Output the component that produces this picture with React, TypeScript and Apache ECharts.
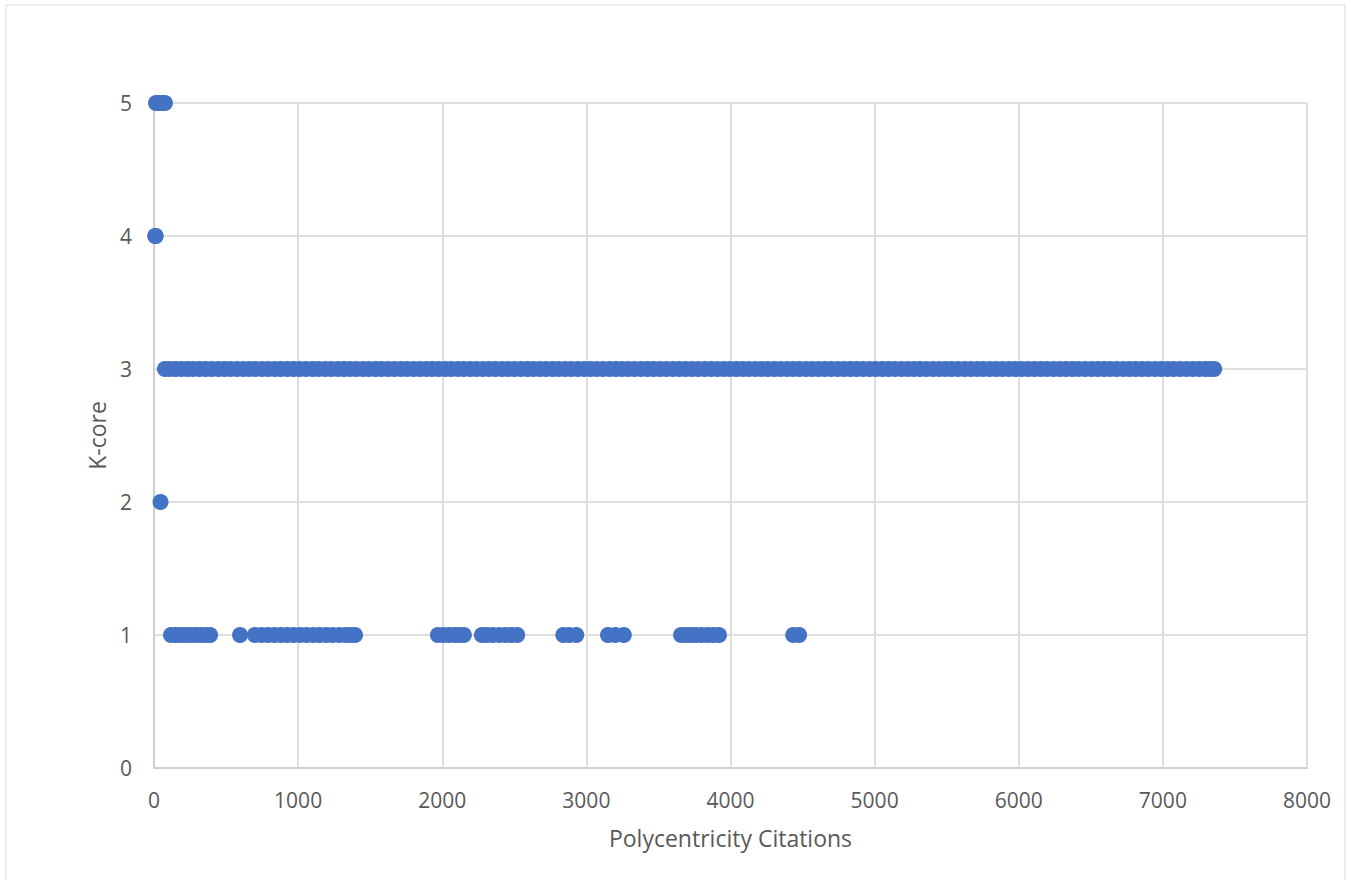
import React, { useEffect, useRef } from "react";
import * as echarts from "echarts";

const xTicks = [0, 1000, 2000, 3000, 4000, 5000, 6000, 7000, 8000];
const yTicks = [0, 1, 2, 3, 4, 5];

const kcore5 = [14, 30, 45, 60, 76];
const kcore4 = [8, 12];
const kcore2 = [45];
const kcore1 = [
  118, 150, 185, 220, 255, 290, 325, 360, 389,
  597,
  700, 745, 790, 835, 880, 925, 970, 1015, 1060, 1105, 1150, 1195, 1240, 1285, 1330, 1365, 1395,
  1970, 2010, 2050, 2090, 2125, 2150,
  2275, 2310, 2350, 2395, 2440, 2480, 2520,
  2840, 2880, 2930,
  3150, 3200, 3260,
  3657, 3690, 3725, 3760, 3800, 3840, 3880, 3920,
  4435, 4476,
];
const kcore3 = [
  76, 110, 150, 190, 232, 270, 315, 358, 400, 445, 488, 530, 575, 620, 662, 705, 750, 792, 838, 880,
  925, 968, 1010, 1055, 1100, 1142, 1188, 1230, 1275, 1318, 1360, 1405, 1450, 1492, 1538, 1580, 1625,
  1668, 1712, 1755, 1800, 1845, 1888, 1930, 1975, 2020, 2062, 2108, 2150, 2195, 2238, 2282, 2325, 2370,
  2415, 2458, 2500, 2545, 2590, 2632, 2676, 2720, 2765, 2808, 2852, 2895, 2940, 2985, 3028, 3072, 3115,
  3160, 3205, 3248, 3292, 3335, 3380, 3425, 3468, 3512, 3555, 3600, 3645, 3688, 3732, 3775, 3820, 3865,
  3908, 3952, 3995, 4040, 4085, 4128, 4172, 4215, 4260, 4305, 4348, 4392, 4435, 4480, 4525, 4568, 4612,
  4655, 4700, 4745, 4788, 4832, 4875, 4920, 4965, 5008, 5052, 5095, 5140, 5185, 5228, 5272, 5315, 5360,
  5405, 5448, 5492, 5535, 5580, 5625, 5668, 5712, 5755, 5800, 5845, 5888, 5932, 5975, 6020, 6065, 6108,
  6152, 6195, 6240, 6285, 6328, 6372, 6415, 6460, 6505, 6548, 6592, 6635, 6680, 6725, 6768, 6812, 6855,
  6900, 6945, 6988, 7032, 7075, 7120, 7165, 7208, 7252, 7295, 7330, 7356,
];

const groups: [number, number[]][] = [
  [5, kcore5],
  [4, kcore4],
  [3, kcore3],
  [2, kcore2],
  [1, kcore1],
];

const FONT = "Open Sans";

export default function App() {
  const ref = useRef<HTMLDivElement>(null);
  useEffect(() => {
    if (!ref.current) return;
    const chart = echarts.init(ref.current, undefined, { renderer: "svg" });
    const data: number[][] = [];
    groups.forEach(([k, xs]) => xs.forEach((x) => data.push([x, k])));
    chart.setOption({
      animation: false,
      backgroundColor: "#ffffff",
      graphic: [
        {
          type: "rect",
          shape: { x: 6, y: 5, width: 1339, height: 890 },
          style: { fill: "none", stroke: "#d9d9d9", lineWidth: 1 },
          silent: true,
        },
      ],
      grid: { left: 154, right: 39, top: 103, bottom: 112 },
      xAxis: {
        type: "value",
        min: xTicks[0],
        max: xTicks[xTicks.length - 1],
        interval: 1000,
        name: "Polycentricity Citations",
        nameLocation: "middle",
        nameGap: 58,
        nameTextStyle: { color: "#595959", fontSize: 23, fontFamily: FONT },
        axisLine: { show: true, lineStyle: { color: "#cfcfcf", width: 2 } },
        axisTick: { show: false },
        axisLabel: {
          color: "#595959",
          fontSize: 21,
          fontFamily: FONT,
          margin: 21,
          formatter: (v: number) => String(v),
        },
        splitLine: { show: true, lineStyle: { color: "#dedede", width: 2 } },
      },
      yAxis: {
        type: "value",
        min: yTicks[0],
        max: yTicks[yTicks.length - 1],
        interval: 1,
        name: "K-core",
        nameLocation: "middle",
        nameGap: 46,
        nameTextStyle: { color: "#595959", fontSize: 23, fontFamily: FONT },
        axisLine: { show: true, lineStyle: { color: "#cfcfcf", width: 2 } },
        axisTick: { show: false },
        axisLabel: {
          color: "#595959",
          fontSize: 21,
          fontFamily: FONT,
          margin: 22,
          formatter: (v: number) => String(v),
        },
        splitLine: { show: true, lineStyle: { color: "#dedede", width: 2 } },
      },
      series: [
        {
          type: "scatter",
          data,
          symbol: "circle",
          symbolSize: 16,
          itemStyle: { color: "#4472C4", opacity: 1 },
          emphasis: { disabled: true },
        },
      ],
    });
    return () => chart.dispose();
  }, []);
  return (
    <div
      ref={ref}
      style={{ position: "absolute", left: 0, top: 0, width: 1346, height: 880 }}
    />
  );
}
